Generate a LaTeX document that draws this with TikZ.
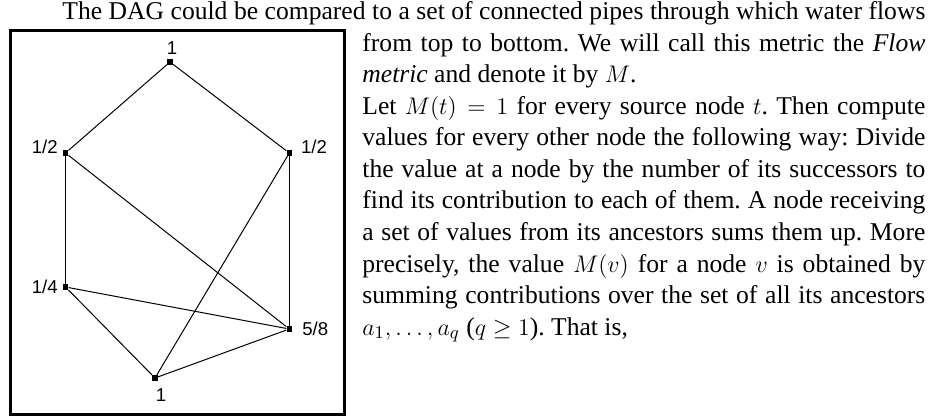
\documentclass[tikz,border=0pt]{standalone}
\usepackage[no-math]{fontspec}
\setmainfont{Liberation Serif}
\newfontfamily\lblfont{Liberation Sans}
\usepackage{amsmath}
\usepackage{tikz}
\usepackage{xcolor}
\usetikzlibrary{positioning}
\definecolor{ink}{HTML}{000000}
\frenchspacing

\tikzset{
  vtx/.style={rectangle,fill=ink,inner sep=0pt,minimum size=2.6pt},
  val/.style={inner sep=0pt,font=\lblfont\fontsize{9.3}{11}\selectfont},
  pipe/.style={draw=ink,line width=0.5pt},
  row/.style={inner sep=0pt,anchor=base west,font=\fontsize{12.8}{15}\selectfont},
  frame/.style={draw=ink,line width=1.5pt}
}

\begin{document}
\begin{tikzpicture}[x=0.5pt,y=-0.5pt]
  \useasboundingbox (0,0) rectangle (935,416);
  \draw[frame] (10,30.5) rectangle (344,414);

  \node[vtx] (top) at (170,62) {};
  \node[vtx] (hl) at (65.5,153) {};
  \node[vtx] (hr) at (289.3,153) {};
  \node[vtx] (qt) at (65.5,287) {};
  \node[vtx] (fe) at (289.3,329) {};
  \node[vtx] (bot) at (155,378) {};

  \node[val,above=2pt of top,xshift=1pt] (ltop) {1};
  \node[val,left=2.2pt of hl,yshift=3pt] (lhl) {1/2};
  \node[val,right=4.2pt of hr,yshift=3pt] (lhr) {1/2};
  \node[val,left=2.2pt of qt] (lqt) {1/4};
  \node[val,right=4.8pt of fe] (lfe) {5/8};
  \node[val,below=3.5pt of bot,xshift=3pt] (lbot) {1};

  \draw[pipe] (top) -- (hl);
  \draw[pipe] (top) -- (hr);
  \draw[pipe] (hl) -- (qt);
  \draw[pipe] (hl) -- (fe);
  \draw[pipe] (hr) -- (fe);
  \draw[pipe] (hr) -- (bot);
  \draw[pipe] (qt) -- (fe);
  \draw[pipe] (qt) -- (bot);
  \draw[pipe] (bot) -- (fe);

  \node[row] (r0) at (62,20) {\makebox[431.5pt][s]{The DAG could be compared to a set of connected pipes through which water flows}};
  \node[row] (r1) at (362,51.5) {\makebox[281.5pt][s]{from top to bottom. We will call this metric the \emph{Flow}}};
  \node[row] (r2) at (362,83) {\emph{metric} and denote it by $M$.};
  \node[row] (r3) at (362,114.5) {\makebox[281.5pt][s]{Let $M(t)=1$ for every source node $t$. Then compute}};
  \node[row] (r4) at (362,146) {\makebox[281.5pt][s]{values for every other node the following way: Divide}};
  \node[row] (r5) at (362,177.5) {\makebox[281.5pt][s]{the value at a node by the number of its successors to}};
  \node[row] (r6) at (362,209) {\makebox[281.5pt][s]{find its contribution to each of them. A node receiving}};
  \node[row] (r7) at (362,240.5) {\makebox[281.5pt][s]{a set of values from its ancestors sums them up. More}};
  \node[row] (r8) at (362,272) {\makebox[281.5pt][s]{precisely, the value $M(v)$ for a node $v$ is obtained by}};
  \node[row] (r9) at (362,303.5) {\makebox[281.5pt][s]{summing contributions over the set of all its ancestors}};
  \node[row] (r10) at (362,335) {$a_1, \dots, a_q$ ($q \geq 1$). That is,};
\end{tikzpicture}
\end{document}
